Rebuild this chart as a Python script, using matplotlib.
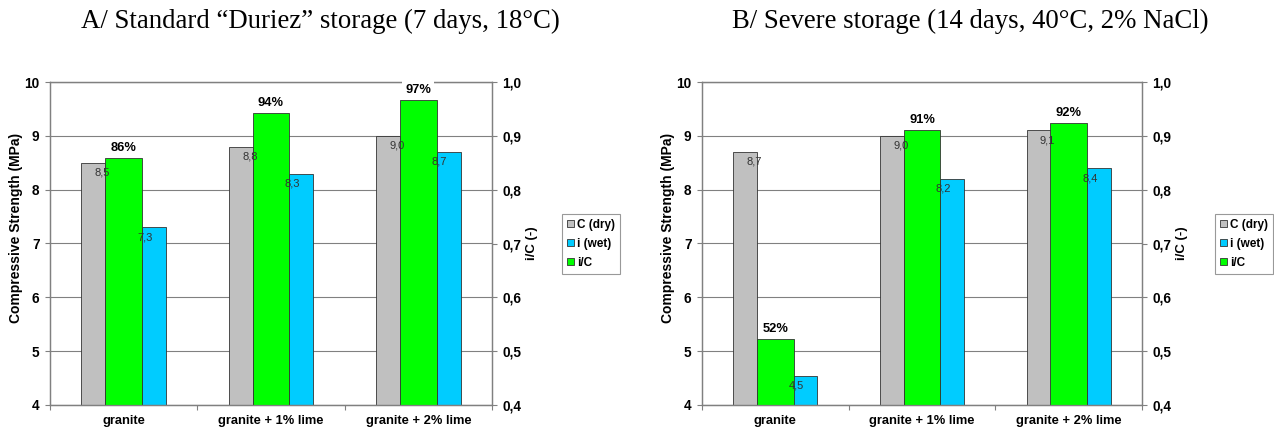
import matplotlib
matplotlib.use("Agg")
import matplotlib.pyplot as plt
from matplotlib.patches import Patch
import numpy as np

plt.rcParams['font.family'] = ['Liberation Sans', 'DejaVu Sans']

# data
cats = ["granite", "granite + 1% lime", "granite + 2% lime"]

dry_a = [8.5, 8.8, 9.0]
wet_a = [7.3, 8.3, 8.7]
ratio_a = [0.859, 0.943, 0.967]

dry_b = [8.7, 9.0, 9.1]
wet_b = [4.54, 8.2, 8.4]
ratio_b = [0.522, 0.911, 0.923]

titles = ["A/ Standard \u201cDuriez\u201d storage (7 days, 18\u00b0C)",
          "B/ Severe storage (14 days, 40\u00b0C, 2% NaCl)"]
legend_labels = ["C (dry)", "i (wet)", "i/C"]

C_GRAY = "#c0c0c0"
C_BLUE = "#00ccff"
C_GREEN = "#00ff00"
EDGE = "#333333"
AXC = "#808080"

W, H = 1274, 430
fig = plt.figure(figsize=(W / 100, H / 100), dpi=100)


def comma(v, nd):
    return f"{v:.{nd}f}".replace(".", ",")


def panel(x0, x1, dry, wet, ratio, title, title_x, leg_x):
    ax = fig.add_axes([x0 / W, 1 - 405 / H, (x1 - x0) / W, (405 - 82) / H])
    ax2 = ax.twinx()
    x = np.arange(len(cats))
    off, bw, gw = 0.205, 0.163, 0.25

    ax.bar(x - off, dry, bw, color=C_GRAY, edgecolor=EDGE, linewidth=0.6, zorder=2)
    ax.bar(x + off, wet, bw, color=C_BLUE, edgecolor=EDGE, linewidth=0.6, zorder=2)
    ax2.bar(x, ratio, gw, color=C_GREEN, edgecolor=EDGE, linewidth=0.6, zorder=2)

    ax.set_ylim(4, 10)
    ax2.set_ylim(0.4, 1.0)
    ax.set_xlim(-0.5, 2.5)
    ax.set_yticks(range(4, 11))
    ax.set_yticklabels([str(v) for v in range(4, 11)], fontsize=9.8, fontweight="bold")
    rt = [0.4, 0.5, 0.6, 0.7, 0.8, 0.9, 1.0]
    ax2.set_yticks(rt)
    ax2.set_yticklabels([comma(v, 1) for v in rt], fontsize=9.8, fontweight="bold")

    ax.set_xticks([-0.5, 0.5, 1.5, 2.5])
    ax.set_xticklabels([])
    ax.set_xticks(x, minor=True)
    ax.set_xticklabels(cats, minor=True, fontsize=9.3, fontweight="bold")
    ax.tick_params(axis="x", which="minor", length=0, pad=7)
    ax.tick_params(axis="x", which="major", length=3.5, color=AXC)
    ax.tick_params(axis="y", length=3.5, color=AXC, pad=4)
    ax2.tick_params(axis="y", length=3.5, color=AXC, pad=4)

    ax.grid(axis="y", color=AXC, linewidth=0.8, zorder=0)
    ax.set_axisbelow(True)
    for a in (ax, ax2):
        for s in a.spines.values():
            s.set_color(AXC)
            s.set_linewidth(0.9)

    ax.set_ylabel("Compressive Strength (MPa)", fontsize=10, fontweight="bold")
    ax.yaxis.set_label_coords(-27 / (x1 - x0), 0.548)
    ax2.set_ylabel("i/C (-)", fontsize=9.5, fontweight="bold", labelpad=3)

    # value labels drawn on the top axes so they sit over the green bars
    for i in range(len(cats)):
        ax2.annotate(comma(dry[i], 1), (x[i] - off, dry[i]), xycoords=ax.transData,
                     xytext=(9, -10), textcoords="offset pixels",
                     ha="center", va="center", fontsize=8, color="#333333", zorder=5)
        ax2.annotate(comma(wet[i], 1), (x[i] + off, wet[i]), xycoords=ax.transData,
                     xytext=(-9, -10), textcoords="offset pixels",
                     ha="center", va="center", fontsize=8, color="#333333", zorder=5)
        ax2.annotate(f"{round(ratio[i] * 100)}%", (x[i], ratio[i]),
                     xytext=(0, 10), textcoords="offset pixels",
                     ha="center", va="center", fontsize=9.3, fontweight="bold",
                     zorder=5, bbox=dict(facecolor="white", edgecolor="none", pad=2.2))

    fig.text(title_x / W, 1 - 27.5 / H, title, ha="center", va="baseline",
             fontsize=19.3, family=["Liberation Serif", "DejaVu Serif"])

    handles = [Patch(facecolor=C_GRAY, edgecolor=EDGE, linewidth=0.6),
               Patch(facecolor=C_BLUE, edgecolor=EDGE, linewidth=0.6),
               Patch(facecolor=C_GREEN, edgecolor=EDGE, linewidth=0.6)]
    leg = fig.legend(handles, legend_labels, loc="upper left",
                     bbox_to_anchor=(leg_x / W, 1 - 214 / H),
                     prop=dict(size=8.5, weight="bold"), frameon=True, fancybox=False,
                     handlelength=0.6, handleheight=0.6, handletextpad=0.3,
                     borderpad=0.4, labelspacing=0.6, borderaxespad=0)
    leg.get_frame().set_edgecolor(AXC)
    leg.get_frame().set_linewidth(0.8)


panel(50, 492, dry_a, wet_a, ratio_a, titles[0], 320, 562)
panel(702, 1142, dry_b, wet_b, ratio_b, titles[1], 970, 1215)

fig.savefig("out.png", dpi=100)
